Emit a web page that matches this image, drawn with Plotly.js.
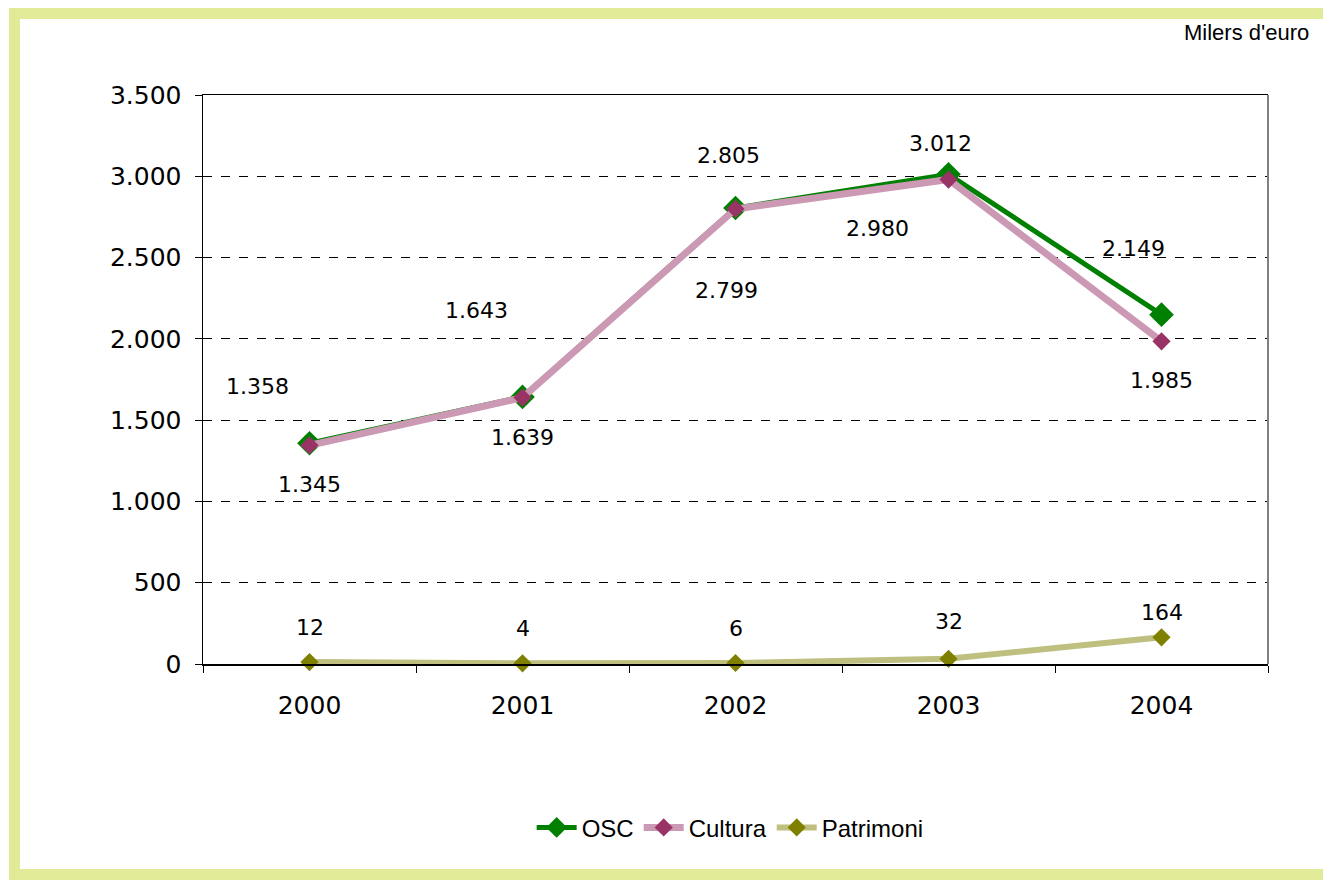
<!DOCTYPE html>
<html>
<head>
<meta charset="utf-8">
<script src="https://cdn.plot.ly/plotly-3.0.1.min.js"></script>
<style>
  html, body { margin: 0; padding: 0; background: #ffffff; overflow: hidden; }
  #frame { position: absolute; left: 9px; top: 8px; width: 1400px; height: 872px;
           box-sizing: border-box; border: 11px solid #e1ea97; }
  #chart { position: absolute; left: 0; top: 0; width: 1323px; height: 881px; }
</style>
</head>
<body>
<div id="frame"></div>
<div id="chart"></div>
<script>
// ---- data ----
var years = ["2000", "2001", "2002", "2003", "2004"];
var osc = [1358, 1643, 2805, 3012, 2149];
var cultura = [1345, 1639, 2799, 2980, 1985];
var patrimoni = [12, 4, 6, 32, 164];
var seriesNames = ["OSC", "Cultura", "Patrimoni"];
var unitLabel = "Milers d'euro";

// ---- label offsets (pixels) ----
var oscShift = [[-52, -57], [-46, -86], [-7, -52], [-8, -31], [-28, -66]];
var culturaShift = [[0, 39], [0, 40], [-9, 82], [-71, 49], [0, 39]];
var patrimoniShift = [[0, -35], [0, -35], [0, -35], [0, -37], [0, -25]];

function fmt(v) {
  return String(v).replace(/\B(?=(\d{3})+(?!\d))/g, ".");
}

var numFont = { family: "DejaVu Sans", size: 22, color: "#000000" };
var tickFont = { family: "DejaVu Sans", size: 25, color: "#000000" };

var traces = [
  {
    x: years, y: osc, name: seriesNames[0], type: "scatter", mode: "lines+markers",
    line: { color: "#008000", width: 5 },
    marker: { symbol: "diamond", size: 19, color: "#008000" },
    cliponaxis: false
  },
  {
    x: years, y: cultura, name: seriesNames[1], type: "scatter", mode: "lines+markers",
    line: { color: "#cc99b4", width: 7 },
    marker: { symbol: "diamond", size: 14, color: "#993366" },
    cliponaxis: false
  },
  {
    x: years, y: patrimoni, name: seriesNames[2], type: "scatter", mode: "lines+markers",
    line: { color: "#bfbf7f", width: 6 },
    marker: { symbol: "diamond", size: 14, color: "#808000" },
    cliponaxis: false
  }
];

var annotations = [];
function addLabels(vals, shifts) {
  for (var i = 0; i < vals.length; i++) {
    annotations.push({
      x: i, y: vals[i], xref: "x", yref: "y",
      text: fmt(vals[i]), showarrow: false,
      xanchor: "center", yanchor: "middle",
      xshift: shifts[i][0], yshift: -shifts[i][1],
      font: numFont
    });
  }
}
addLabels(osc, oscShift);
addLabels(cultura, culturaShift);
addLabels(patrimoni, patrimoniShift);

annotations.push({
  xref: "paper", yref: "paper", x: 1.04, y: 1.11,
  xanchor: "right", yanchor: "middle",
  text: unitLabel, showarrow: false,
  font: { family: "Liberation Sans", size: 22, color: "#000000" }
});

var layout = {
  width: 1323, height: 881,
  margin: { l: 203, r: 55, t: 95, b: 217, pad: 0 },
  paper_bgcolor: "rgba(0,0,0,0)",
  plot_bgcolor: "rgba(0,0,0,0)",
  separators: ",.",
  showlegend: true,
  legend: {
    orientation: "h", x: 0.495, xanchor: "center", y: -0.288, yanchor: "middle",
    font: { family: "Liberation Sans", size: 24, color: "#000000" },
    bgcolor: "rgba(0,0,0,0)", itemwidth: 40, tracegroupgap: 0
  },
  xaxis: {
    type: "category", range: [-0.5, 4.5],
    showline: true, linecolor: "#000000", linewidth: 1.5, mirror: true,
    ticks: "outside", tickson: "boundaries", ticklen: 7, tickcolor: "#000000", tickwidth: 1,
    showgrid: false, zeroline: false,
    tickfont: tickFont, ticklabelstandoff: 18
  },
  yaxis: {
    range: [0, 3500], dtick: 500, tick0: 0, tickformat: ",d",
    showline: true, linecolor: "#000000", linewidth: 1.5,
    ticks: "outside", ticklen: 7, tickcolor: "#000000", tickwidth: 1,
    showgrid: true, gridcolor: "#000000", gridwidth: 1, griddash: "dash",
    zeroline: false, tickfont: tickFont, ticklabelstandoff: 8
  },
  shapes: [
    { type: "line", xref: "paper", yref: "paper", x0: 1, x1: 1, y0: 0, y1: 1,
      line: { color: "#808080", width: 2 } }
  ],
  annotations: annotations
};

Plotly.newPlot("chart", traces, layout, { displayModeBar: false, staticPlot: true });
</script>
</body>
</html>
